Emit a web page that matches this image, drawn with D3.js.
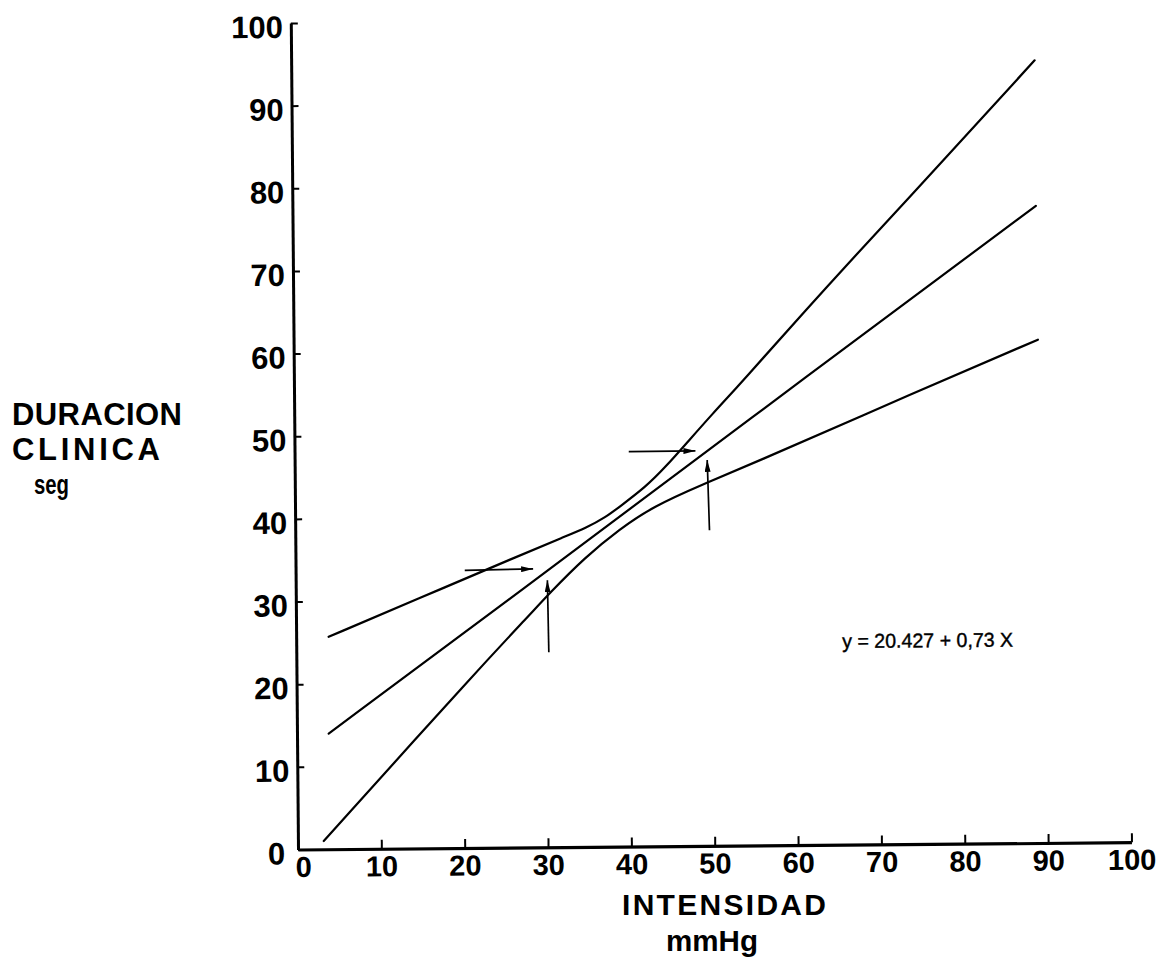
<!DOCTYPE html>
<html>
<head>
<meta charset="utf-8">
<script src="https://cdn.jsdelivr.net/npm/d3@7"></script>
<style>
  html, body { margin: 0; padding: 0; background: #fff; }
  svg { display: block; }
  text { font-family: "Liberation Sans", Arial, Helvetica, sans-serif; fill: #000; }
</style>
</head>
<body>
<svg id="chart" width="1167" height="957"></svg>
<script>
// ---- data ----
const xTicks = [0, 10, 20, 30, 40, 50, 60, 70, 80, 90, 100];
const yTicks = [0, 10, 20, 30, 40, 50, 60, 70, 80, 90, 100];

// upper band curve (shallow at left, steep at right)
const upperX = [3.9, 14.4, 26.8, 32.4, 34.9, 37.3, 38.9, 42.1, 44.5, 47.0, 50.2, 53.4, 64.4, 72.9, 89.2];
const upperY = [25.7, 30.1, 35.3, 37.6, 38.6, 39.9, 41.1, 43.5, 45.9, 48.7, 52.3, 55.7, 68.0, 77.0, 94.7];

// regression line (middle)
const middleX = [3.8, 26.8, 53.4, 89.2];
const middleY = [14.0, 30.9, 50.7, 77.1];

// lower band curve (steep at left, shallow at right)
const lowerX = [3.1, 21.9, 28.0, 30.4, 34.8, 38.9, 42.9, 49.3, 53.3, 75.1, 89.3];
const lowerY = [1.0, 21.7, 28.1, 30.7, 35.1, 38.4, 41.1, 43.9, 45.5, 54.9, 60.9];

// arrows (from -> to, data units)
const arrowX1 = [20.3, 30.3, 40.1, 49.7];
const arrowY1 = [33.6, 23.6, 47.8, 38.2];
const arrowX2 = [28.5, 30.2, 48.1, 49.5];
const arrowY2 = [33.7, 32.3, 47.8, 46.7];

const equationText = "y = 20.427 + 0,73 X";
const equationPos = [65.5, 23.8];

const xTitle = "INTENSIDAD";
const xUnit = "mmHg";
const yTitle1 = "DURACION";
const yTitle2 = "CLINICA";
const yUnit = "seg";

// ---- layout ----
const svg = d3.select("#chart");
const x = d3.scaleLinear().domain([0, 100]).range([298, 1131.5]);
const y = d3.scaleLinear().domain([0, 100]).range([849.5, 23]);

svg.append("defs").append("marker")
  .attr("id", "ah")
  .attr("viewBox", "0 0 12 6")
  .attr("refX", 12).attr("refY", 3)
  .attr("markerWidth", 12).attr("markerHeight", 6)
  .attr("markerUnits", "userSpaceOnUse")
  .attr("orient", "auto")
  .append("path").attr("d", "M0,0 L12,3 L0,6 Z").attr("fill", "#000");

const plot = svg.append("g")
  .attr("transform", `rotate(-0.5, ${x(0)}, ${y(0)})`);

// x axis
const xAxis = d3.axisBottom(x).tickValues(xTicks).tickSizeInner(-9).tickSizeOuter(0).tickPadding(7);
const gx = plot.append("g").attr("transform", `translate(0,${y(0)})`).call(xAxis);
gx.select(".domain").attr("stroke-width", 3.2).attr("stroke", "#000");
gx.selectAll(".tick line").attr("stroke-width", 2).attr("stroke", "#000");
gx.selectAll(".tick text")
  .attr("font-size", 29).attr("font-weight", "bold")
  .attr("font-family", '"Liberation Sans", Arial, sans-serif')
  .attr("dx", d => d === 0 ? 5 : 0);

// y axis
const yAxis = d3.axisLeft(y).tickValues(yTicks).tickSizeInner(-7).tickSizeOuter(0).tickPadding(8);
const gy = plot.append("g").attr("transform", `translate(${x(0)},0)`).call(yAxis);
gy.select(".domain").attr("stroke-width", 3).attr("stroke", "#000");
gy.selectAll(".tick line").attr("stroke-width", 2).attr("stroke", "#000");
gy.selectAll(".tick text")
  .attr("font-size", 31).attr("font-weight", "bold")
  .attr("font-family", '"Liberation Sans", Arial, sans-serif')
  .attr("dy", "0.46em")
  .attr("dx", d => d === 0 ? -5 : 0);

// curves
const line = d3.line()
  .x(d => x(d[0])).y(d => y(d[1]))
  .curve(d3.curveBasis);

const series = [
  d3.zip(upperX, upperY),
  d3.zip(middleX, middleY),
  d3.zip(lowerX, lowerY)
];
plot.selectAll("path.curve").data(series).join("path")
  .attr("class", "curve")
  .attr("d", line)
  .attr("fill", "none")
  .attr("stroke", "#000")
  .attr("stroke-width", 2.2)
  .attr("stroke-linecap", "round");

// arrows
const arrows = arrowX1.map((v, i) => ({ x1: v, y1: arrowY1[i], x2: arrowX2[i], y2: arrowY2[i] }));
plot.selectAll("line.arrow").data(arrows).join("line")
  .attr("class", "arrow")
  .attr("x1", d => x(d.x1)).attr("y1", d => y(d.y1))
  .attr("x2", d => x(d.x2)).attr("y2", d => y(d.y2))
  .attr("stroke", "#000").attr("stroke-width", 1.7)
  .attr("marker-end", "url(#ah)");

// equation
plot.append("text")
  .attr("x", x(equationPos[0])).attr("y", y(equationPos[1]))
  .attr("font-size", 20)
  .attr("stroke", "#000").attr("stroke-width", 0.4)
  .attr("textLength", 171).attr("lengthAdjust", "spacingAndGlyphs")
  .text(equationText);

// axis titles
svg.append("text")
  .attr("x", 622).attr("y", 915)
  .attr("font-size", 30).attr("font-weight", "bold")
  .attr("textLength", 204).attr("lengthAdjust", "spacing")
  .text(xTitle);
svg.append("text")
  .attr("x", 666).attr("y", 951)
  .attr("font-size", 30).attr("font-weight", "bold")
  .attr("textLength", 92).attr("lengthAdjust", "spacingAndGlyphs")
  .text(xUnit);

svg.append("text")
  .attr("x", 12).attr("y", 425)
  .attr("font-size", 31).attr("font-weight", "bold")
  .attr("textLength", 170).attr("lengthAdjust", "spacing")
  .text(yTitle1);
svg.append("text")
  .attr("x", 12).attr("y", 460)
  .attr("font-size", 31).attr("font-weight", "bold")
  .attr("textLength", 148).attr("lengthAdjust", "spacing")
  .text(yTitle2);
svg.append("text")
  .attr("x", 34).attr("y", 494)
  .attr("font-size", 27).attr("font-weight", "bold")
  .attr("textLength", 35).attr("lengthAdjust", "spacingAndGlyphs")
  .text(yUnit);
</script>
</body>
</html>
